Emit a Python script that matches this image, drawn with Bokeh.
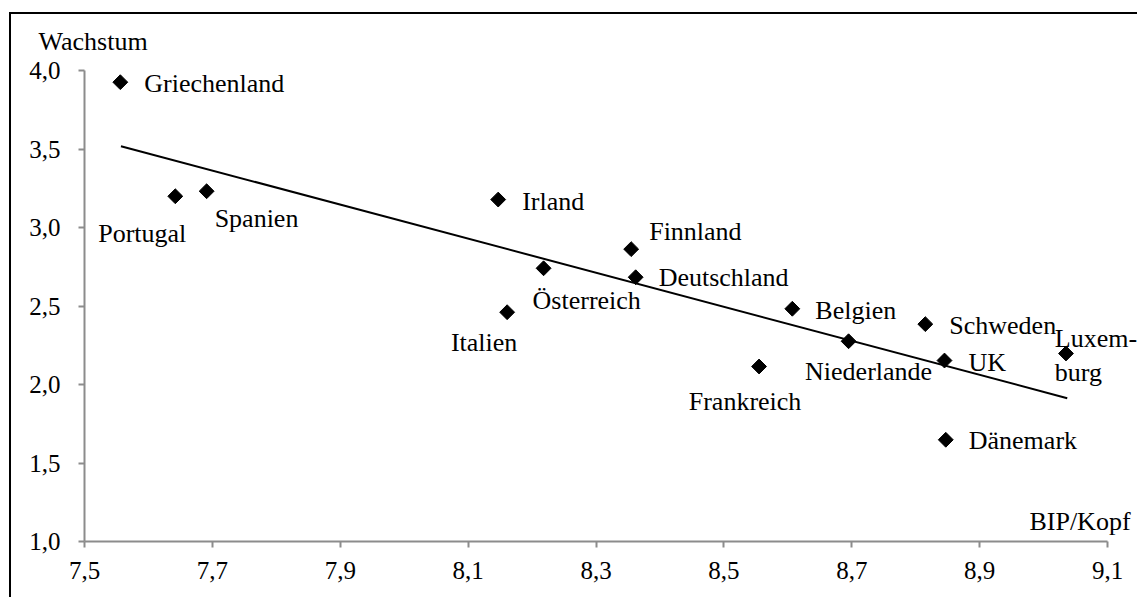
import numpy as np
from bokeh.plotting import figure
from bokeh.models import ColumnDataSource, LabelSet, Label, FixedTicker, Range1d
from bokeh.embed import file_html
from bokeh.resources import INLINE

# ---- data ----
countries = ["Griechenland", "Portugal", "Spanien", "Irland", "Finnland", "Österreich",
             "Deutschland", "Italien", "Belgien", "Frankreich", "Niederlande", "Schweden",
             "UK", "Luxemburg", "Dänemark"]
label_texts = ["Griechenland", "Portugal", "Spanien", "Irland", "Finnland", "Österreich",
               "Deutschland", "Italien", "Belgien", "Frankreich", "Niederlande", "Schweden",
               "UK", "Luxem-\nburg", "Dänemark"]
bip_kopf = [7.556, 7.642, 7.691, 8.147, 8.355, 8.218, 8.362, 8.161, 8.607, 8.555, 8.695,
            8.815, 8.845, 9.035, 8.847]
wachstum = [3.928, 3.201, 3.233, 3.180, 2.864, 2.742, 2.685, 2.462, 2.484, 2.116, 2.277,
            2.386, 2.154, 2.199, 1.649]
trend_x = [7.557, 9.037]
trend_y = [3.520, 1.914]
x_ticks = [7.5, 7.7, 7.9, 8.1, 8.3, 8.5, 8.7, 8.9, 9.1]
x_tick_labels = ["7,5", "7,7", "7,9", "8,1", "8,3", "8,5", "8,7", "8,9", "9,1"]
y_ticks = [1.0, 1.5, 2.0, 2.5, 3.0, 3.5, 4.0]
y_tick_labels = ["1,0", "1,5", "2,0", "2,5", "3,0", "3,5", "4,0"]
x_title = "BIP/Kopf"
y_title = "Wachstum"

# ---- label placement (screen px offsets, up positive) ----
label_layout = {
    "Griechenland": (24, -10, "left"),
    "Portugal": (-33, -46, "center"),
    "Spanien": (8, -36, "left"),
    "Irland": (24, -10, "left"),
    "Finnland": (18, 9, "left"),
    "Österreich": (-11, -41, "left"),
    "Deutschland": (23, -9, "left"),
    "Italien": (-23, -39, "center"),
    "Belgien": (23, -10, "left"),
    "Frankreich": (-14, -44, "center"),
    "Niederlande": (20, -39, "center"),
    "Schweden": (24, -10, "left"),
    "UK": (24, -10, "left"),
    "Luxemburg": (30, -2, "center"),
    "Dänemark": (23, -9, "left"),
}

FONT = "Liberation Serif"
AXIS_GREY = "#8c8c8c"

# ---- geometry (canvas px) ----
W, H = 1128, 585
AX_LEFT_PX = 73.0      # canvas x of first x tick
AX_BOTTOM_PX = 527.1   # canvas y of first y tick
PX_PER_X = 639.4
PX_PER_Y = 156.9
x0 = x_ticks[0] - AX_LEFT_PX / PX_PER_X
x1 = x0 + W / PX_PER_X
y0 = y_ticks[0] - (H - AX_BOTTOM_PX) / PX_PER_Y
y1 = y_ticks[0] + AX_BOTTOM_PX / PX_PER_Y

p = figure(width=W, height=H, output_backend="svg", toolbar_location=None,
           x_range=Range1d(x0, x1), y_range=Range1d(y0, y1),
           min_border_left=0, min_border_right=0, min_border_top=0, min_border_bottom=0)
p.margin = (12, 0, 0, 9)
p.styles = {"border-left": "2px solid black", "border-top": "2px solid black"}
p.outline_line_color = None
p.grid.visible = False
p.background_fill_color = "white"
p.border_fill_color = "white"

for ax, ticks, labels, loc in ((p.xaxis, x_ticks, x_tick_labels, y_ticks[0]),
                               (p.yaxis, y_ticks, y_tick_labels, x_ticks[0])):
    ax.fixed_location = loc
    ax.bounds = (ticks[0], ticks[-1])
    ax.ticker = FixedTicker(ticks=ticks)
    ax.major_label_overrides = {t: l for t, l in zip(ticks, labels)}
    ax.axis_line_color = AXIS_GREY
    ax.axis_line_width = 2
    ax.major_tick_line_color = AXIS_GREY
    ax.major_tick_line_width = 2
    ax.major_tick_in = 0
    ax.major_tick_out = 6
    ax.minor_tick_line_color = None
    ax.major_label_text_font = FONT
    ax.major_label_text_font_size = "25px"
    ax.major_label_text_color = "black"
p.xaxis.major_label_standoff = 14
p.yaxis.major_label_standoff = 18

# trend line
p.line(trend_x, trend_y, line_color="black", line_width=2)

# points
src = ColumnDataSource(dict(
    x=bip_kopf, y=wachstum, text=label_texts,
    dx=[label_layout[c][0] for c in countries],
    dy=[label_layout[c][1] for c in countries],
    align=[label_layout[c][2] for c in countries],
))
p.scatter("x", "y", source=src, marker="square", angle=np.pi / 4, size=10.5,
          fill_color="black", line_color="black")

labels = LabelSet(x="x", y="y", text="text", source=src, x_offset="dx", y_offset="dy",
                  text_align="align", text_baseline="alphabetic",
                  text_font=FONT, text_font_size="26px", text_color="black",
                  text_line_height=1.2)
p.add_layout(labels)

p.add_layout(Label(x=x_ticks[0], y=y_ticks[-1], text=y_title, x_offset=-46, y_offset=29,
                   text_font=FONT, text_font_size="26px", text_color="black",
                   text_align="left", text_baseline="alphabetic"))
p.add_layout(Label(x=x_ticks[-1], y=y_ticks[0], text=x_title, x_offset=23, y_offset=20,
                   text_font=FONT, text_font_size="26px", text_color="black",
                   text_align="right", text_baseline="alphabetic"))

open("out.html", "w").write(file_html(p, INLINE))
